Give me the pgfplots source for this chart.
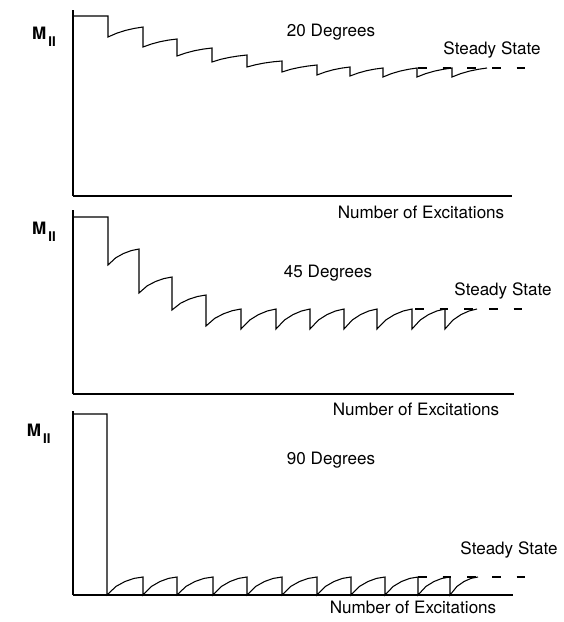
\documentclass[border=0pt]{standalone}
\usepackage{fontspec}
\setmainfont{TeX Gyre Heros}
\usepackage{pgfplots}
\pgfplotsset{compat=1.18}
\pgfplotsset{panel/.style={scale only axis, axis lines=left, axis line style={-, line width=0.9pt},
  xtick=\empty, ytick=\empty, xmin=0, ymin=0, clip=false, anchor=south west}}
\newcommand{\Mpar}{{\bfseries M}\hspace{1.5pt}\raisebox{-0.8ex}{\fontsize{10}{10}\selectfont\bfseries II}}
\tikzset{lab/.style={inner sep=0pt, font=\fontsize{12.8}{15}\selectfont}}
\begin{document}
\begin{tikzpicture}[x=1pt,y=1pt]
\path[use as bounding box] (0,0) rectangle (423,466.5);
% ---------- 20 degrees
\begin{axis}[panel, at={(54.75pt,319.5pt)}, width=329.25pt, height=139.5pt, xmax=439, ymax=186]
\addplot[black, line width=0.8pt] coordinates {
(0,180) (35,180) (35,159)
(43.75,162.8) (52.5,165.6) (61.25,167.6) (70,169) (70,149)
(78.5,152.0) (87,154.3) (95.5,155.9) (104,157) (104,140)
(112.75,143.0) (121.5,145.3) (130.25,146.9) (139,148) (139,134)
(147.75,136.7) (156.5,138.6) (165.25,140.0) (174,141) (174,129)
(182.75,131.3) (191.5,133.0) (200.25,134.2) (209,135) (209,124)
(217.75,126.7) (226.5,128.6) (235.25,130.0) (244,131) (244,121)
(252.25,124.0) (260.5,126.3) (268.75,127.9) (277,129) (277,120)
(285.25,123.0) (293.5,125.3) (301.75,126.9) (310,128) (310,119)
(318.5,122.4) (327,124.9) (335.5,126.7) (344,128) (344,119)
(352.75,122.4) (361.5,124.9) (370.25,126.7) (379,128) (379,119)
(387.75,122.4) (396.5,124.9) (405.25,126.7) (414,128)
};
\addplot[black, line width=0.8pt, dash pattern=on 6.5pt off 12pt] coordinates {(345,128) (453,128)};
\end{axis}
% ---------- 45 degrees
\begin{axis}[panel, at={(54.75pt,171pt)}, width=330.75pt, height=138pt, xmax=441, ymax=184]
\addplot[black, line width=0.8pt] coordinates {
(0,177) (35,177) (35,129)
(42.75,136.2) (50.5,140.5) (58.25,143.4) (66,145) (66,101)
(74.25,108.2) (82.5,112.5) (90.75,115.4) (99,117) (99,84)
(107.5,90.75) (116,94.8) (124.5,97.5) (133,99) (133,68)
(141.75,75.65) (150.5,80.2) (159.25,83.3) (168,85) (168,65)
(176.75,74) (185.5,79.4) (194.25,83) (203,85) (203,65)
(211.5,74) (220,79.4) (228.5,83) (237,85) (237,65)
(245.5,74) (254,79.4) (262.5,83) (271,85) (271,65)
(279.25,74) (287.5,79.4) (295.75,83) (304,85) (304,65)
(312.75,74) (321.5,79.4) (330.25,83) (339,85) (339,65)
(347.25,74) (355.5,79.4) (363.75,83) (372,85) (372,65)
(380,74) (388,79.4) (396,83) (404,85)
};
\addplot[black, line width=0.8pt, dash pattern=on 6.5pt off 12pt] coordinates {(342,85) (454,85)};
\end{axis}
% ---------- 90 degrees
\begin{axis}[panel, at={(54.75pt,20.25pt)}, width=330pt, height=138pt, xmax=440, ymax=184]
\addplot[black, line width=0.8pt] coordinates {
(0,181) (34,181) (34,0)
(43,8.6) (52,13.5) (61,16.6) (70,18) (70,0)
(78.5,8.6) (87,13.5) (95.5,16.6) (104,18) (104,0)
(113,8.6) (122,13.5) (131,16.6) (140,18) (140,0)
(148.5,8.6) (157,13.5) (165.5,16.6) (174,18) (174,0)
(182.75,8.6) (191.5,13.5) (200.25,16.6) (209,18) (209,0)
(217.75,8.6) (226.5,13.5) (235.25,16.6) (244,18) (244,0)
(252.5,8.6) (261,13.5) (269.5,16.6) (278,18) (278,0)
(286.5,8.6) (295,13.5) (303.5,16.6) (312,18) (312,0)
(320.25,8.6) (328.5,13.5) (336.75,16.6) (345,18) (345,0)
(353,8.6) (361,13.5) (369,16.6) (377,18) (377,0)
(384,8.6) (391,13.5) (398,16.6) (405,18)
};
\addplot[black, line width=0.8pt, dash pattern=on 6.5pt off 12pt] coordinates {(345,18) (454,18)};
\end{axis}
% ---------- labels
\node[lab] at (33,438.75) {\Mpar};
\node[lab] at (33,292.5) {\Mpar};
\node[lab] at (29,141) {\Mpar};
\node[lab] at (248.25,442.5) {20 Degrees};
\node[lab] at (369,429) {Steady State};
\node[lab] at (315.75,307.5) {Number of Excitations};
\node[lab] at (246,261.75) {45 Degrees};
\node[lab] at (377.25,248.25) {Steady State};
\node[lab] at (312,159.75) {Number of Excitations};
\node[lab] at (248.25,121.5) {90 Degrees};
\node[lab] at (381.75,54) {Steady State};
\node[lab] at (309.75,11.25) {Number of Excitations};
\end{tikzpicture}
\end{document}
